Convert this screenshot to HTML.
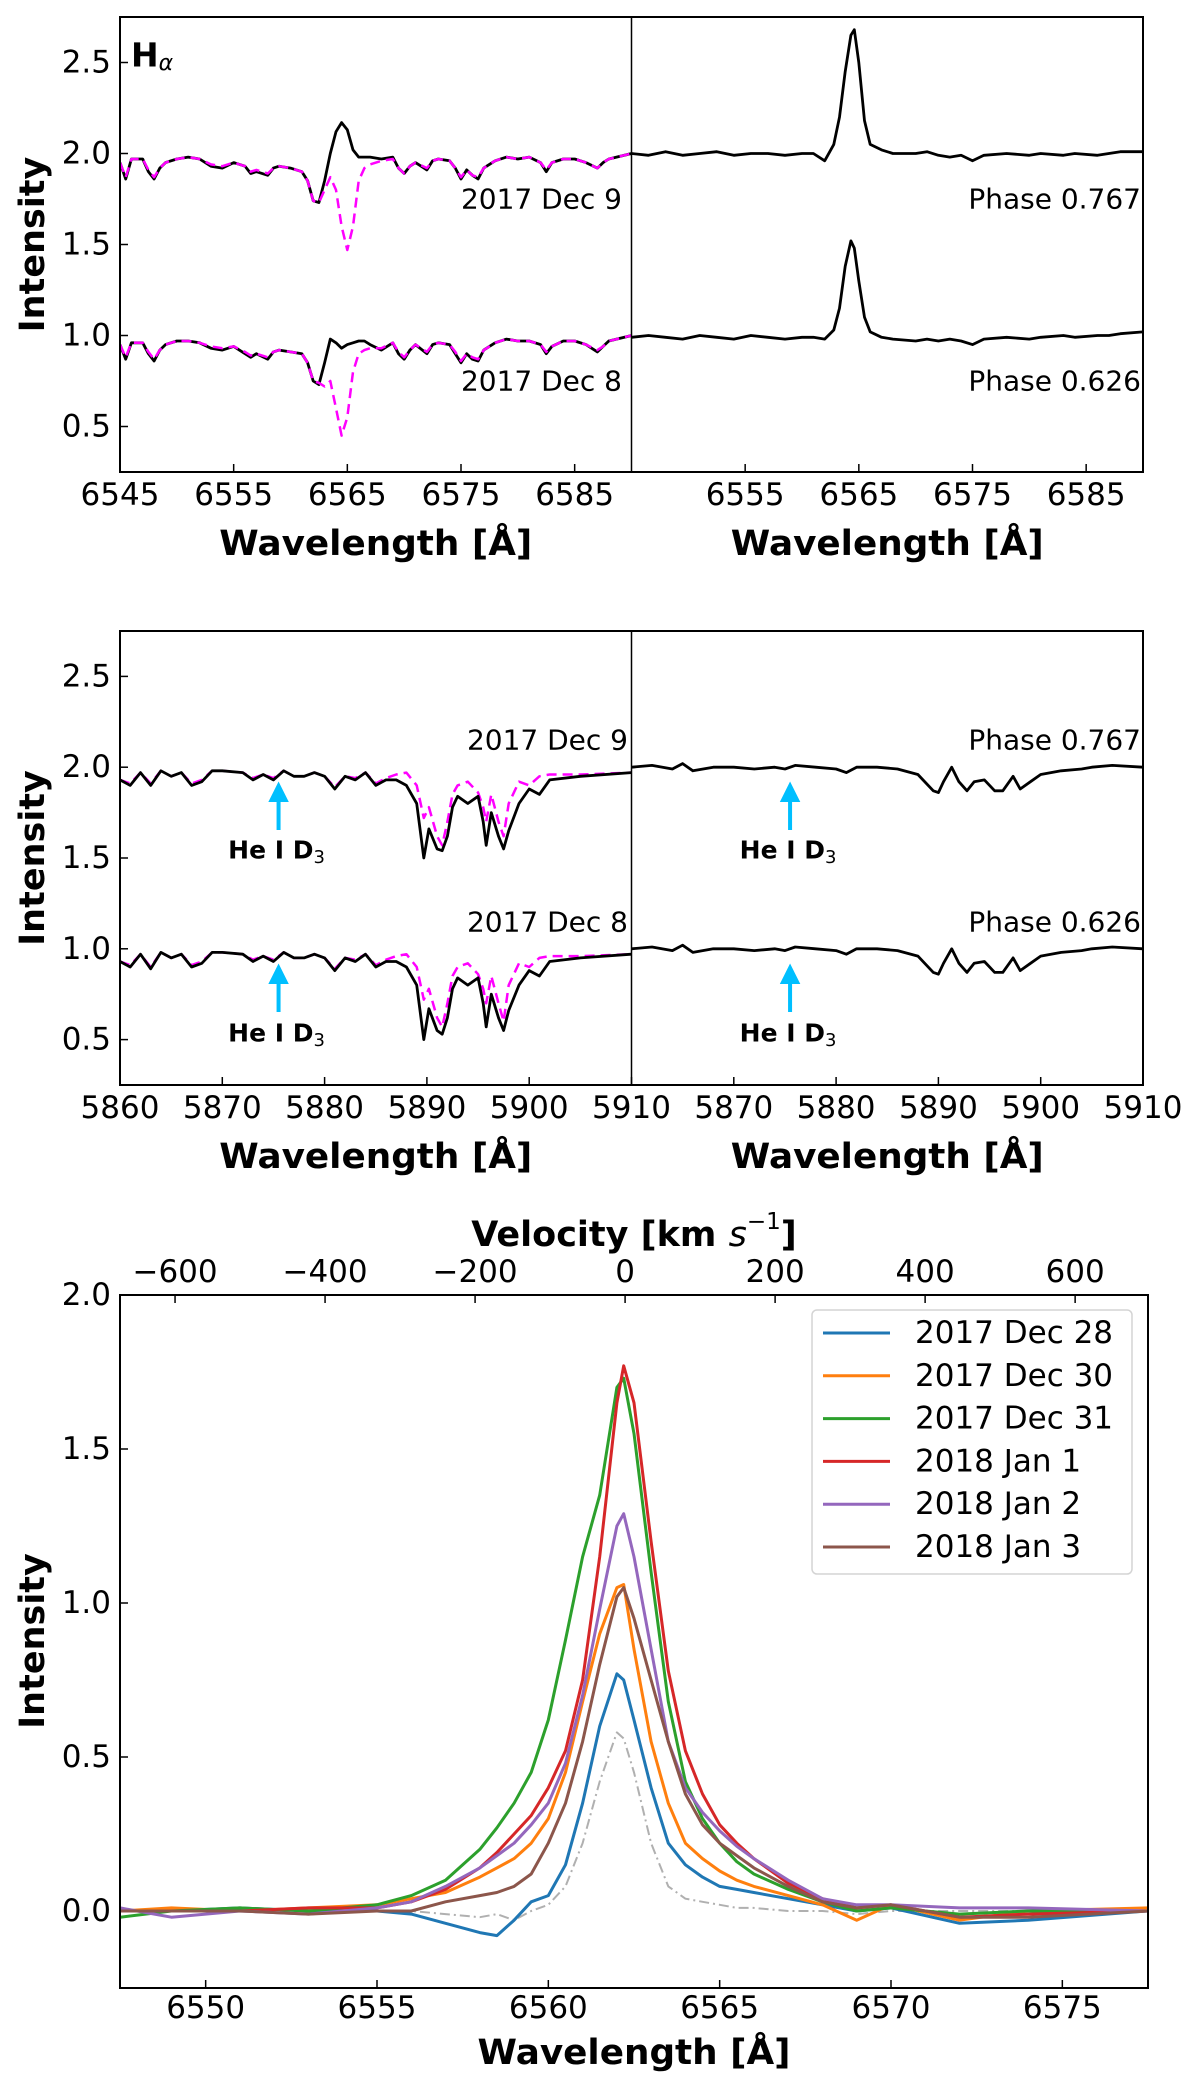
<!DOCTYPE html>
<html><head><meta charset="utf-8">
<style>
html,body{margin:0;padding:0;background:#fff;}
svg{display:block;font-family:"DejaVu Sans","Liberation Sans",sans-serif;}
</style></head>
<body>
<svg id="fig" width="1200" height="2087" viewBox="0 0 1200 2087" xmlns="http://www.w3.org/2000/svg"></svg>
<script>
// ---------- Data: H-alpha panel (top) ----------
const haWl = [6545,6545.5,6546,6547,6547.5,6548,6548.5,6549,6550,6551,6552,6553,6554,6555,6556,6556.5,6557,6558,6558.5,6559,6560,6561,6561.5,6562,6562.5,6563,6563.5,6564,6564.5,6565,6565.5,6566,6566.5,6567,6568,6569,6569.5,6570,6570.5,6571,6572,6572.5,6573,6574,6574.5,6575,6575.5,6576,6576.5,6577,6578,6579,6580,6581,6582,6582.5,6583,6584,6585,6586,6587,6587.5,6588,6590];
const haObsDec9 = [1.95,1.86,1.97,1.97,1.90,1.86,1.92,1.95,1.97,1.98,1.97,1.93,1.92,1.95,1.93,1.89,1.90,1.88,1.92,1.93,1.92,1.90,1.85,1.74,1.73,1.85,2.00,2.12,2.17,2.13,2.02,1.98,1.98,1.98,1.97,1.98,1.92,1.89,1.93,1.95,1.91,1.96,1.97,1.96,1.92,1.86,1.91,1.88,1.86,1.92,1.96,1.98,1.97,1.98,1.95,1.90,1.95,1.97,1.97,1.95,1.92,1.95,1.97,2.00];
const haModDec9 = [1.95,1.87,1.97,1.97,1.91,1.87,1.92,1.95,1.97,1.98,1.97,1.94,1.93,1.95,1.93,1.90,1.91,1.89,1.92,1.93,1.92,1.90,1.85,1.74,1.73,1.80,1.87,1.80,1.60,1.47,1.60,1.85,1.92,1.94,1.96,1.97,1.92,1.89,1.93,1.95,1.92,1.96,1.97,1.96,1.92,1.87,1.91,1.88,1.87,1.92,1.96,1.98,1.97,1.98,1.95,1.91,1.95,1.97,1.97,1.95,1.92,1.95,1.97,2.00];
const haObsDec8 = [0.95,0.87,0.96,0.96,0.90,0.86,0.92,0.95,0.97,0.97,0.96,0.93,0.92,0.94,0.90,0.88,0.90,0.87,0.91,0.92,0.91,0.90,0.85,0.75,0.73,0.85,0.98,0.96,0.93,0.95,0.96,0.97,0.97,0.95,0.92,0.96,0.90,0.87,0.92,0.95,0.90,0.95,0.96,0.95,0.90,0.85,0.90,0.87,0.86,0.92,0.96,0.98,0.97,0.97,0.95,0.90,0.94,0.97,0.97,0.95,0.91,0.94,0.97,1.00];
const haModDec8 = [0.95,0.88,0.96,0.96,0.91,0.87,0.92,0.95,0.97,0.97,0.96,0.94,0.93,0.94,0.91,0.89,0.90,0.88,0.91,0.92,0.91,0.90,0.85,0.75,0.74,0.72,0.75,0.60,0.45,0.55,0.80,0.90,0.92,0.93,0.93,0.96,0.91,0.88,0.92,0.95,0.91,0.95,0.96,0.95,0.91,0.86,0.90,0.88,0.87,0.92,0.96,0.98,0.97,0.97,0.95,0.91,0.94,0.97,0.97,0.95,0.92,0.94,0.97,1.00];
const haPhWl = [6545,6546.5,6548,6549.5,6551,6552.5,6554,6555.5,6557,6558.5,6560,6561,6562,6562.8,6563.3,6563.8,6564.3,6564.6,6565,6565.5,6566,6567,6568,6570,6571,6572,6573,6574,6575,6576,6578,6580,6581,6583,6584,6586,6587,6588,6590];
const haPh767 = [2.00,1.99,2.01,1.99,2.00,2.01,1.99,2.00,2.00,1.99,2.00,2.00,1.96,2.05,2.20,2.45,2.65,2.68,2.50,2.18,2.05,2.02,2.00,2.00,2.01,1.99,1.98,1.99,1.96,1.99,2.00,1.99,2.00,1.99,2.00,1.99,2.00,2.01,2.01];
const haPh626 = [0.99,1.00,0.99,0.98,1.00,0.99,0.98,1.00,0.99,0.98,0.99,0.99,0.98,1.03,1.15,1.38,1.52,1.48,1.30,1.10,1.02,0.99,0.98,0.97,0.98,0.97,0.98,0.97,0.95,0.98,0.99,0.98,0.99,1.00,0.99,1.00,1.00,1.01,1.02];
// ---------- Data: Na D panel (middle) ----------
const naWl = [5860,5861,5862,5863,5864,5865,5866,5867,5868,5869,5870,5872,5873,5874,5875,5876,5877,5878,5879,5880,5881,5882,5883,5884,5885,5886,5887,5888,5889,5889.7,5890.2,5891,5891.5,5892,5892.5,5893,5894,5895,5895.5,5895.8,5896.3,5897,5897.5,5898,5899,5900,5901,5902,5905,5910];
const naObsDec9 = [1.93,1.90,1.97,1.90,1.98,1.95,1.97,1.90,1.92,1.98,1.98,1.97,1.93,1.96,1.93,1.98,1.95,1.95,1.97,1.95,1.88,1.95,1.93,1.97,1.90,1.93,1.93,1.90,1.80,1.50,1.66,1.55,1.54,1.62,1.78,1.84,1.80,1.84,1.70,1.57,1.75,1.62,1.55,1.65,1.80,1.88,1.85,1.93,1.95,1.97];
const naModDec9 = [1.93,1.91,1.97,1.91,1.98,1.95,1.97,1.91,1.93,1.98,1.98,1.97,1.94,1.96,1.94,1.98,1.95,1.95,1.97,1.95,1.89,1.95,1.94,1.97,1.91,1.94,1.96,1.97,1.90,1.72,1.78,1.62,1.57,1.70,1.85,1.90,1.92,1.86,1.78,1.70,1.85,1.70,1.62,1.80,1.92,1.90,1.95,1.96,1.96,1.97];
const naObsDec8 = [0.93,0.90,0.97,0.89,0.98,0.95,0.97,0.90,0.92,0.98,0.98,0.97,0.93,0.96,0.93,0.98,0.95,0.95,0.97,0.95,0.88,0.95,0.93,0.97,0.90,0.93,0.93,0.90,0.80,0.50,0.67,0.55,0.53,0.62,0.78,0.84,0.80,0.84,0.70,0.57,0.75,0.62,0.55,0.66,0.80,0.88,0.85,0.93,0.95,0.97];
const naModDec8 = [0.93,0.91,0.97,0.90,0.98,0.95,0.97,0.91,0.93,0.98,0.98,0.97,0.94,0.96,0.94,0.98,0.95,0.95,0.97,0.95,0.89,0.95,0.94,0.97,0.91,0.94,0.96,0.97,0.90,0.72,0.78,0.62,0.57,0.70,0.85,0.90,0.92,0.86,0.78,0.70,0.85,0.70,0.60,0.80,0.92,0.90,0.95,0.96,0.96,0.97];
const naPhWl = [5860,5862,5864,5865,5866,5868,5870,5872,5874,5875,5876,5878,5880,5881,5882,5884,5886,5888,5889.5,5890,5890.5,5891.3,5892,5892.8,5893.5,5894.5,5895.5,5896.3,5897.3,5898,5899,5900,5902,5904,5905,5907,5910];
const naPh767 = [2.00,2.01,1.99,2.02,1.98,2.00,2.00,1.99,2.00,1.99,2.01,2.00,1.99,1.97,2.00,2.00,1.99,1.96,1.87,1.86,1.92,2.00,1.92,1.87,1.92,1.93,1.87,1.87,1.95,1.88,1.92,1.96,1.98,1.99,2.00,2.01,2.00];
const naPh626 = [1.00,1.01,0.99,1.02,0.98,1.00,1.00,0.99,1.00,0.99,1.01,1.00,0.99,0.97,1.00,1.00,0.99,0.96,0.87,0.86,0.92,1.00,0.92,0.87,0.92,0.93,0.87,0.87,0.95,0.88,0.92,0.96,0.98,0.99,1.00,1.01,1.00];
// ---------- Data: H-alpha emission profiles (bottom) ----------
const profWl = [6547.5,6549,6551,6553,6555,6556,6557,6558,6558.5,6559,6559.5,6560,6560.5,6561,6561.5,6562,6562.2,6562.5,6563,6563.5,6564,6564.5,6565,6565.5,6566,6567,6568,6569,6570,6572,6574,6577.5];
const profDec28 = [0.00,0.00,0.01,0.00,0.00,-0.01,-0.04,-0.07,-0.08,-0.03,0.03,0.05,0.15,0.35,0.60,0.77,0.75,0.62,0.40,0.22,0.15,0.11,0.08,0.07,0.06,0.04,0.02,0.00,0.01,-0.04,-0.03,0.00];
const profDec30 = [0.00,0.01,0.00,0.01,0.02,0.04,0.06,0.11,0.14,0.17,0.22,0.30,0.45,0.68,0.90,1.05,1.06,0.85,0.55,0.35,0.22,0.17,0.13,0.10,0.08,0.05,0.02,-0.03,0.02,-0.03,0.00,0.01];
const profDec31 = [-0.02,0.00,0.01,0.00,0.02,0.05,0.10,0.20,0.27,0.35,0.45,0.62,0.88,1.15,1.35,1.70,1.73,1.55,1.10,0.68,0.42,0.30,0.22,0.16,0.12,0.07,0.03,0.00,0.01,-0.01,0.00,0.00];
const profJan1 = [0.00,0.00,0.00,0.01,0.01,0.03,0.07,0.14,0.19,0.25,0.31,0.40,0.52,0.75,1.15,1.65,1.77,1.65,1.20,0.78,0.52,0.38,0.28,0.22,0.17,0.09,0.04,0.01,0.02,-0.02,-0.01,0.00];
const profJan2 = [0.01,-0.02,0.00,-0.01,0.01,0.03,0.08,0.14,0.18,0.22,0.28,0.35,0.48,0.70,0.98,1.25,1.29,1.15,0.85,0.55,0.40,0.32,0.26,0.21,0.17,0.10,0.04,0.02,0.02,0.01,0.01,0.00];
const profJan3 = [0.00,0.00,0.00,-0.01,0.00,0.00,0.03,0.05,0.06,0.08,0.12,0.22,0.35,0.55,0.80,1.02,1.05,0.95,0.75,0.55,0.38,0.28,0.22,0.18,0.14,0.08,0.03,0.01,0.02,-0.02,-0.02,0.00];
const profRef = [0.00,0.00,0.00,0.00,0.00,0.00,-0.01,-0.02,-0.01,-0.03,0.00,0.02,0.08,0.22,0.42,0.58,0.56,0.45,0.22,0.08,0.04,0.03,0.02,0.01,0.01,0.00,0.00,-0.01,0.00,0.00,0.00,0.00];
const legendLabels = ["2017 Dec 28","2017 Dec 30","2017 Dec 31","2018 Jan 1","2018 Jan 2","2018 Jan 3"];
const topYTicks = [0.5,1.0,1.5,2.0,2.5];
const haXTicks = [6545,6555,6565,6575,6585];
const naXTicks = [5860,5870,5880,5890,5900,5910];
const botXTicks = [6550,6555,6560,6565,6570,6575];
const botYTicks = [0.0,0.5,1.0,1.5,2.0];
const velTicks = [-600,-400,-200,0,200,400,600];

const NS = "http://www.w3.org/2000/svg";
const svg = document.getElementById('fig');
function mk(tag, attrs, parent, text){
  const e = document.createElementNS(NS, tag);
  for (const k in attrs) e.setAttribute(k, attrs[k]);
  if (text !== undefined) e.textContent = text;
  (parent||svg).appendChild(e);
  return e;
}
function lin(d0,d1,r0,r1){ return v => r0 + (v-d0)*(r1-r0)/(d1-d0); }
function pathD(xs, ys, fx, fy){
  let d=''; for(let i=0;i<xs.length;i++){ d += (i?'L':'M') + fx(xs[i]).toFixed(1)+','+fy(ys[i]).toFixed(1); } return d;
}
function curve(xs, ys, fx, fy, stroke, w, dash, name, clip){
  const p = mk('path', {d: pathD(xs,ys,fx,fy), fill:'none', stroke:stroke, 'stroke-width':w, 'stroke-linejoin':'round'});
  if (dash) p.setAttribute('stroke-dasharray', dash);
  if (clip) p.setAttribute('clip-path', 'url(#'+clip+')');
  
  
  return p;
}
function txt(x,y,s,opts,name){
  const t = mk('text', Object.assign({x:x,y:y,'font-size':31,fill:'#000','dominant-baseline':'central'}, opts||{}), svg, s);
  
  
  return t;
}
function title(x,y,s,name,len){
  return txt(x,y,s,{'text-anchor':'middle','font-weight':'bold','font-size':35,textLength:len,lengthAdjust:'spacingAndGlyphs'},name);
}
const defs = mk('defs', {});
function clipRect(id,x,y,w,h){ const c = mk('clipPath',{id:id},defs); mk('rect',{x:x,y:y,width:w,height:h},c); }

// Panel geometry
const L=120, M=631.5, R=1143;
function twoPanel(top, bot, xmin, xmax, xticks, xticksRight, prefix){
  const fy = lin(0.25, 2.75, bot, top);
  const fxL = lin(xmin, xmax, L, M), fxR = lin(xmin, xmax, M, R);
  clipRect(prefix+'-clipL', L, top, M-L, bot-top);
  clipRect(prefix+'-clipR', M, top, R-M, bot-top);
  topYTicks.forEach(v=>{
    const y=fy(v);
    const t = mk('line',{x1:L,x2:L+8,y1:y,y2:y,stroke:'#000','stroke-width':1.5});
    
    
    txt(111,y,v.toFixed(1),{'text-anchor':'end'}, prefix+'-y-tick-label');
  });
  xticks.forEach(v=>{
    const x=fxL(v);
    mk('line',{x1:x,x2:x,y1:bot,y2:bot-8,stroke:'#000','stroke-width':1.5});
    txt(x,bot+23,String(v),{'text-anchor':'middle'}, prefix+'-x-tick-label-left');
  });
  xticksRight.forEach(v=>{
    const x=fxR(v);
    mk('line',{x1:x,x2:x,y1:bot,y2:bot-8,stroke:'#000','stroke-width':1.5});
    txt(x,bot+23,String(v),{'text-anchor':'middle'}, prefix+'-x-tick-label-right');
  });
  title((L+M)/2,bot+72,'Wavelength [Å]', prefix+'-x-axis-title-left',313);
  title((M+R)/2,bot+72,'Wavelength [Å]', prefix+'-x-axis-title-right',313);
  txt(0,0,'Intensity',{'text-anchor':'middle','font-weight':'bold','font-size':35,transform:'translate(33,'+((top+bot)/2)+') rotate(-90)'}, prefix+'-y-axis-title');
  return {fy, fxL, fxR};
}
function frame(top,bot,prefix){
  const r = mk('rect',{x:L,y:top,width:R-L,height:bot-top,fill:'none',stroke:'#000','stroke-width':2});
  
  
  const d = mk('line',{x1:M,x2:M,y1:top,y2:bot,stroke:'#000','stroke-width':1.5});
  
  
}

// ---------- Top panel ----------
{
  const top=17, bot=472;
  const a = twoPanel(top,bot,6545,6590,haXTicks,[6555,6565,6575,6585],'ha');
  curve(haWl,haObsDec9,a.fxL,a.fy,'#000',2.8,null,'ha-obs-dec9','ha-clipL');
  curve(haWl,haModDec9,a.fxL,a.fy,'#ff00ff',2.5,'10,6','ha-model-dec9','ha-clipL');
  curve(haWl,haObsDec8,a.fxL,a.fy,'#000',2.8,null,'ha-obs-dec8','ha-clipL');
  curve(haWl,haModDec8,a.fxL,a.fy,'#ff00ff',2.5,'10,6','ha-model-dec8','ha-clipL');
  curve(haPhWl,haPh767,a.fxR,a.fy,'#000',2.8,null,'ha-phase-0767','ha-clipR');
  curve(haPhWl,haPh626,a.fxR,a.fy,'#000',2.8,null,'ha-phase-0626','ha-clipR');
  frame(top,bot,'ha');
  const h = txt(131,55,'H',{'font-weight':'bold','font-size':33}, 'ha-panel-label');
  mk('tspan',{'font-style':'italic','font-size':22,dy:8,'font-weight':'normal'},h,'α');
  txt(622,199,'2017 Dec 9',{'text-anchor':'end','font-size':28},'ha-label-dec9');
  txt(622,381,'2017 Dec 8',{'text-anchor':'end','font-size':28},'ha-label-dec8');
  txt(1141,199,'Phase 0.767',{'text-anchor':'end','font-size':28},'ha-label-phase-0767');
  txt(1141,381,'Phase 0.626',{'text-anchor':'end','font-size':28},'ha-label-phase-0626');
}
// ---------- Middle panel ----------
{
  const top=631, bot=1085;
  const a = twoPanel(top,bot,5860,5910,naXTicks,[5870,5880,5890,5900,5910],'na');
  curve(naWl,naModDec9,a.fxL,a.fy,'#ff00ff',2.5,'10,6','na-model-dec9','na-clipL');
  curve(naWl,naObsDec9,a.fxL,a.fy,'#000',2.8,null,'na-obs-dec9','na-clipL');
  curve(naWl,naModDec8,a.fxL,a.fy,'#ff00ff',2.5,'10,6','na-model-dec8','na-clipL');
  curve(naWl,naObsDec8,a.fxL,a.fy,'#000',2.8,null,'na-obs-dec8','na-clipL');
  curve(naPhWl,naPh767,a.fxR,a.fy,'#000',2.8,null,'na-phase-0767','na-clipR');
  curve(naPhWl,naPh626,a.fxR,a.fy,'#000',2.8,null,'na-phase-0626','na-clipR');
  frame(top,bot,'na');
  txt(628,740,'2017 Dec 9',{'text-anchor':'end','font-size':28},'na-label-dec9');
  txt(628,922,'2017 Dec 8',{'text-anchor':'end','font-size':28},'na-label-dec8');
  txt(1141,740,'Phase 0.767',{'text-anchor':'end','font-size':28},'na-label-phase-0767');
  txt(1141,922,'Phase 0.626',{'text-anchor':'end','font-size':28},'na-label-phase-0626');
  const heLam = 5875.5;
  [[a.fxL(heLam),'left'],[a.fxR(heLam),'right']].forEach(([x,side])=>{
    [[830,786,850,'upper'],[1012,968,1033,'lower']].forEach(([y0,y1,ty,pos])=>{
      const ar = mk('path',{d:`M${x},${y0}L${x},${y1+10}M${x-7},${y1+14}L${x},${y1}L${x+7},${y1+14}Z`,stroke:'#00bfff','stroke-width':4,fill:'#00bfff'});
      
      
      const t = txt(x-2,ty,'He I D',{'text-anchor':'middle','font-weight':'bold','font-size':25}, 'he-label-'+side+'-'+pos);
      mk('tspan',{'font-size':18,dy:7,'font-weight':'normal'},t,'3');
    });
  });
}
// ---------- Bottom panel ----------
{
  const BL=120, BR=1148, top=1295, bot=1988;
  const fx = lin(6547.5,6577.5,BL,BR);
  const fy = lin(-0.25,2.0,bot,top);
  const v0 = 6562.24;
  const fv = v => fx(v0 + v*v0/299792.458);
  clipRect('bot-clip',BL,top,BR-BL,bot-top);
  botYTicks.forEach(v=>{
    const y=fy(v);
    mk('line',{x1:BL,x2:BL+8,y1:y,y2:y,stroke:'#000','stroke-width':1.5});
    txt(111,y,v.toFixed(1),{'text-anchor':'end'},'bot-y-tick-label');
  });
  botXTicks.forEach(v=>{
    const x=fx(v);
    mk('line',{x1:x,x2:x,y1:bot,y2:bot-8,stroke:'#000','stroke-width':1.5});
    txt(x,2008,String(v),{'text-anchor':'middle'},'bot-x-tick-label');
  });
  velTicks.forEach(v=>{
    const x=fv(v);
    mk('line',{x1:x,x2:x,y1:top,y2:top+8,stroke:'#000','stroke-width':1.5});
    txt(x,1272,(v<0?'\u2212'+(-v):String(v)),{'text-anchor':'middle'},'velocity-tick-label');
  });
  title((BL+BR)/2,2053,'Wavelength [Å]','bot-x-axis-title',313);
  const vt = txt((BL+BR)/2,1235,'Velocity [km ',{'text-anchor':'middle','font-weight':'bold','font-size':35},'velocity-axis-title');
  mk('tspan',{'font-style':'italic','font-weight':'normal'},vt,'s');
  mk('tspan',{'font-size':23,dy:-13,'font-weight':'normal'},vt,'−1');
  mk('tspan',{dy:13},vt,']');
  txt(0,0,'Intensity',{'text-anchor':'middle','font-weight':'bold','font-size':35,transform:'translate(33,1641) rotate(-90)'},'bot-y-axis-title');
  curve(profWl,profRef,fx,fy,'#b0b0b0',2,'10,4,2,4','reference-profile','bot-clip');
  const series=[profDec28,profDec30,profDec31,profJan1,profJan2,profJan3];
  const cols=['#1f77b4','#ff7f0e','#2ca02c','#d62728','#9467bd','#8c564b'];
  const names=['dec28','dec30','dec31','jan1','jan2','jan3'];
  series.forEach((s,i)=>curve(profWl,s,fx,fy,cols[i],3,null,'profile-'+names[i],'bot-clip'));
  const fr = mk('rect',{x:BL,y:top,width:BR-BL,height:bot-top,fill:'none',stroke:'#000','stroke-width':2});
  
  
  const lg = mk('rect',{x:812,y:1310,width:320,height:264,rx:5,fill:'#fff',stroke:'#d0d0d0','stroke-width':1.5,opacity:0.9});
  
  
  legendLabels.forEach((lab,i)=>{
    const y = 1333 + i*42.8;
    const ln = mk('line',{x1:823,x2:890,y1:y,y2:y,stroke:cols[i],'stroke-width':3});
    
    
    txt(915,y,lab,{'font-size':31},'legend-entry-'+names[i]);
  });
}
</script>
</body></html>
